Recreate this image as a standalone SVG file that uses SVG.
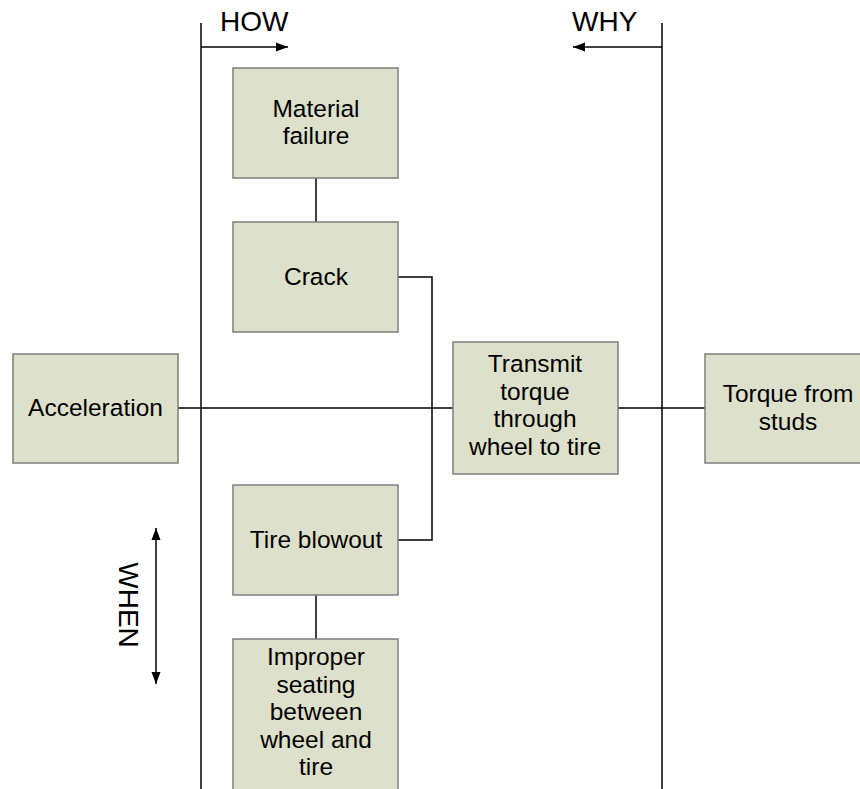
<svg xmlns="http://www.w3.org/2000/svg" width="860" height="789" viewBox="0 0 860 789">
<defs>
<style>
.box{fill:#dde0cb;stroke:#7f7f7f;stroke-width:1.5}
.t{font-family:"Liberation Sans",Arial,sans-serif;font-size:24.5px;fill:#000;text-anchor:middle}
.lbl{font-family:"Liberation Sans",Arial,sans-serif;font-size:28px;fill:#000}
.ln{stroke:#000;stroke-width:1.5;fill:none}
</style>
<marker id="ah" viewBox="0 0 12 10" refX="12" refY="5" markerWidth="12" markerHeight="10" markerUnits="userSpaceOnUse" orient="auto-start-reverse">
<path d="M0,0.5 L12,5 L0,9.5 Z" fill="#000"/>
</marker>
</defs>
<rect width="860" height="789" fill="#fff"/>
<g id="frame">
<line class="ln" x1="201" y1="23" x2="201" y2="789"/>
<line class="ln" x1="662" y1="23" x2="662" y2="789"/>
<line class="ln" x1="201" y1="47" x2="288" y2="47" stroke-width="1" marker-end="url(#ah)"/>
<line class="ln" x1="662" y1="47" x2="573" y2="47" stroke-width="1" marker-end="url(#ah)"/>
<line class="ln" x1="156" y1="528" x2="156" y2="684" stroke="#444" stroke-width="1" marker-start="url(#ah)" marker-end="url(#ah)"/>
<text class="lbl" x="220" y="31">HOW</text>
<text class="lbl" x="572" y="31">WHY</text>
<text class="lbl" text-anchor="middle" font-size="29" transform="translate(119,605) rotate(90)">WHEN</text>
</g>
<g id="connectors">
<line class="ln" x1="316" y1="178" x2="316" y2="222"/>
<polyline class="ln" points="398,277 432,277 432,540 398,540"/>
<line class="ln" x1="178" y1="408" x2="453" y2="408"/>
<line class="ln" x1="617" y1="408" x2="705" y2="408"/>
<line class="ln" x1="316" y1="595" x2="316" y2="639"/>
</g>
<g id="material-failure">
<rect class="box" x="233" y="68" width="165" height="110"/>
<text class="t" x="316" y="117">Material</text>
<text class="t" x="316" y="144">failure</text>
</g>
<g id="crack">
<rect class="box" x="233" y="222" width="165" height="110"/>
<text class="t" x="316" y="285">Crack</text>
</g>
<g id="acceleration">
<rect class="box" x="13" y="354" width="165" height="109"/>
<text class="t" x="95.5" y="416">Acceleration</text>
</g>
<g id="transmit">
<rect class="box" x="453" y="342" width="165" height="132"/>
<text class="t" x="535" y="372">Transmit</text>
<text class="t" x="535" y="399.5">torque</text>
<text class="t" x="535" y="427">through</text>
<text class="t" x="535" y="454.5">wheel to tire</text>
</g>
<g id="torque-from-studs">
<rect class="box" x="705" y="354" width="165" height="109"/>
<text class="t" x="788" y="402">Torque from</text>
<text class="t" x="788" y="430">studs</text>
</g>
<g id="tire-blowout">
<rect class="box" x="233" y="485" width="165" height="110"/>
<text class="t" x="316" y="548">Tire blowout</text>
</g>
<g id="improper-seating">
<rect class="box" x="233" y="639" width="165" height="160"/>
<text class="t" x="316" y="665">Improper</text>
<text class="t" x="316" y="692.5">seating</text>
<text class="t" x="316" y="720">between</text>
<text class="t" x="316" y="747.5">wheel and</text>
<text class="t" x="316" y="775">tire</text>
</g>
</svg>
